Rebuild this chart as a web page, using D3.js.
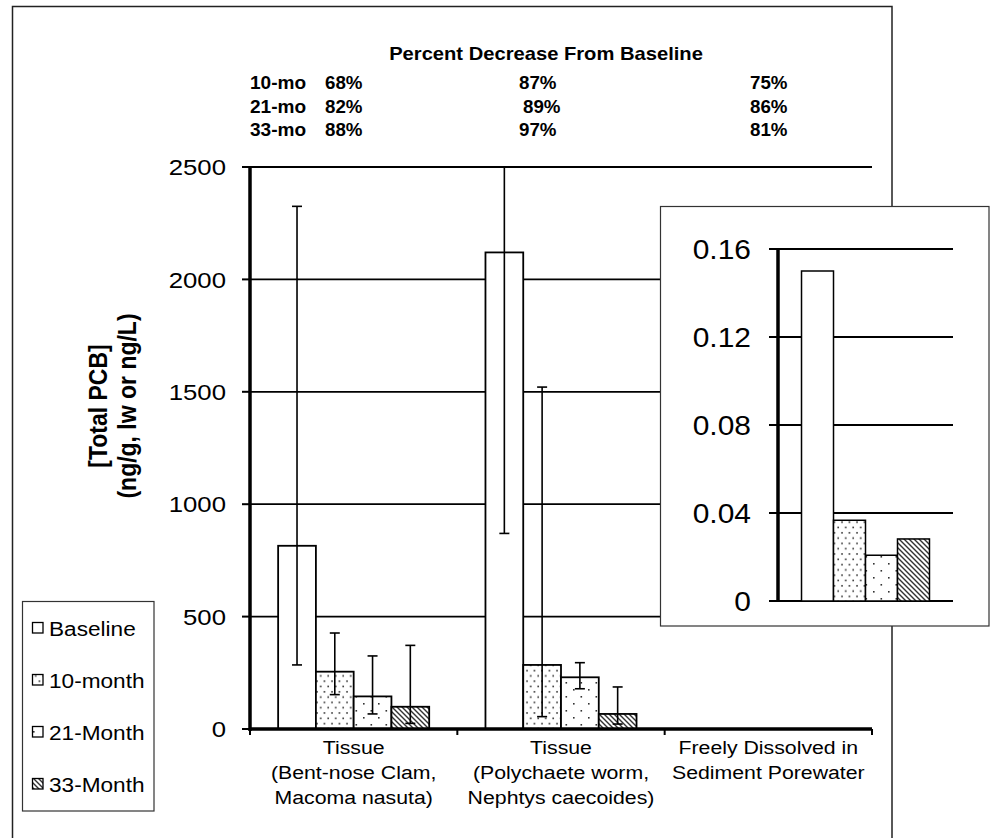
<!DOCTYPE html>
<html><head><meta charset="utf-8">
<script src="https://cdn.jsdelivr.net/npm/d3@7"></script>
<style>
body{margin:0;background:#fff}
svg{display:block}
text{font-family:"Liberation Sans",Arial,sans-serif;fill:#000}
</style>
</head><body>
<svg id="chart" width="993" height="838"></svg>
<script>
// ---------------- DATA ----------------
const categories = [
  ["Tissue", "(Bent-nose Clam,", "Macoma nasuta)"],
  ["Tissue", "(Polychaete worm,", "Nephtys caecoides)"],
  ["Freely Dissolved in", "Sediment Porewater"]
];
const series = ["Baseline", "10-month", "21-Month", "33-Month"];

// main chart values (ng/g lw) – porewater shown only in the inset
const baselineVals  = [815, 2120, null];
const baselineLow   = [285, 870, null];
const baselineHigh  = [2325, 3370, null];
const month10Vals   = [255, 285, null];
const month10Low    = [153, 55, null];
const month10High   = [427, 1521, null];
const month21Vals   = [145, 230, null];
const month21Low    = [67, 179, null];
const month21High   = [325, 295, null];
const month33Vals   = [99, 67, null];
const month33Low    = [25, 22, null];
const month33High   = [372, 187, null];

// inset: freely dissolved in porewater (ng/L)
const porewaterVals = [0.150, 0.0367, 0.0208, 0.0282];

const yTicks = [0, 500, 1000, 1500, 2000, 2500];
const insetTicks = [0, 0.04, 0.08, 0.12, 0.16];
const insetTickLabels = ["0", "0.04", "0.08", "0.12", "0.16"];

// percent decrease table
const pctTitle = "Percent Decrease From Baseline";
const pctRowLabels = ["10-mo", "21-mo", "33-mo"];
const pctClam = ["68%", "82%", "88%"];
const pctWorm = ["87%", "89%", "97%"];
const pctPore = ["75%", "86%", "81%"];

const yTitle = ["[Total PCB]", "(ng/g, lw or ng/L)"];

// ---------------- DRAW ----------------
const svg = d3.select("#chart");
const defs = svg.append("defs");
const patternIds = ["none", "p10", "p21", "p33"];

// 10-month: dense dots
const p10 = defs.append("pattern").attr("id","p10").attr("patternUnits","userSpaceOnUse")
  .attr("width",7.5).attr("height",10.6);
p10.append("rect").attr("width",7.5).attr("height",10.6).attr("fill","#fff");
p10.append("rect").attr("x",1.2).attr("y",2).attr("width",1.6).attr("height",1.6).attr("fill","#333");
p10.append("rect").attr("x",4.95).attr("y",7.3).attr("width",1.6).attr("height",1.6).attr("fill","#333");
// 21-month: sparse dots
const p21 = defs.append("pattern").attr("id","p21").attr("patternUnits","userSpaceOnUse")
  .attr("width",15).attr("height",14);
p21.append("rect").attr("width",15).attr("height",14).attr("fill","#fff");
p21.append("rect").attr("x",3).attr("y",3).attr("width",1.6).attr("height",1.6).attr("fill","#333");
p21.append("rect").attr("x",10.5).attr("y",10).attr("width",1.6).attr("height",1.6).attr("fill","#333");
// 33-month: diagonal hatch
const p33 = defs.append("pattern").attr("id","p33").attr("patternUnits","userSpaceOnUse")
  .attr("width",5).attr("height",5);
p33.append("rect").attr("width",5).attr("height",5).attr("fill","#fff");
p33.append("path").attr("d","M-1,-1L6,6M-1,4L1,6M4,-1L6,1").attr("stroke","#333").attr("stroke-width",1.4);

function fillFor(i){ return i === 0 ? "#fff" : `url(#${patternIds[i]})`; }

function stext(g, x, y, str, opt){
  const t = g.append("text")
    .attr("transform", `translate(${x},${y}) scale(${opt.sx||1},1)`)
    .attr("font-size", opt.size)
    .attr("text-anchor", opt.anchor || "start")
    .text(str);
  if (opt.bold) t.attr("font-weight", "bold");
  return t;
}

// outer frame
svg.append("rect").attr("x",12.5).attr("y",6.5).attr("width",879.5).attr("height",900)
  .attr("fill","none").attr("stroke","#222").attr("stroke-width",1.5);

// main scales
const plot = {left:250, right:872, top:167, bottom:729};
const x = d3.scaleBand().domain(d3.range(categories.length)).range([plot.left, plot.right]).padding(0);
const xs = d3.scaleBand().domain(series).range([0, x.bandwidth()]).paddingInner(0).paddingOuter(0.745);
const y = d3.scaleLinear().domain([0, 2500]).range([plot.bottom, plot.top]);

defs.append("clipPath").attr("id","clipMain").append("rect")
  .attr("x",plot.left).attr("y",plot.top).attr("width",plot.right-plot.left).attr("height",plot.bottom-plot.top);

// gridlines
svg.append("g").selectAll("line").data(yTicks.filter(d=>d>0)).join("line")
  .attr("x1",plot.left).attr("x2",plot.right).attr("y1",d=>y(d)).attr("y2",d=>y(d))
  .attr("stroke","#000").attr("stroke-width",1.8);

const seriesData = [
  {vals: baselineVals, lo: baselineLow, hi: baselineHigh},
  {vals: month10Vals, lo: month10Low, hi: month10High},
  {vals: month21Vals, lo: month21Low, hi: month21High},
  {vals: month33Vals, lo: month33Low, hi: month33High}
];
const barsG = svg.append("g").attr("clip-path","url(#clipMain)");
seriesData.forEach((s, si) => {
  s.vals.forEach((v, ci) => {
    if (v == null) return;
    const bx = x(ci) + xs(series[si]);
    barsG.append("rect").attr("x",bx).attr("y",y(v)).attr("width",xs.bandwidth()).attr("height",y(0)-y(v))
      .attr("fill",fillFor(si)).attr("stroke","#000").attr("stroke-width",1.8);
  });
});
seriesData.forEach((s, si) => {
  s.vals.forEach((v, ci) => {
    if (v == null) return;
    const cx = x(ci) + xs(series[si]) + xs.bandwidth()/2;
    const g = barsG.append("g").attr("stroke","#000").attr("stroke-width",1.6);
    g.append("line").attr("x1",cx).attr("x2",cx).attr("y1",y(s.lo[ci])).attr("y2",y(s.hi[ci]));
    [s.lo[ci], s.hi[ci]].forEach(e => g.append("line").attr("x1",cx-5).attr("x2",cx+5).attr("y1",y(e)).attr("y2",y(e)));
  });
});

// y axis
svg.append("line").attr("x1",plot.left).attr("x2",plot.left).attr("y1",plot.top-1).attr("y2",plot.bottom+2)
  .attr("stroke","#000").attr("stroke-width",3.5);
svg.append("g").selectAll("line").data(yTicks).join("line")
  .attr("x1",plot.left-8).attr("x2",plot.left).attr("y1",d=>y(d)).attr("y2",d=>y(d))
  .attr("stroke","#000").attr("stroke-width",2);
const yl = svg.append("g");
yTicks.forEach(t => stext(yl, 226, y(t)+8.2, String(t), {size:23, sx:1.12, anchor:"end"}));

// x axis
svg.append("line").attr("x1",plot.left).attr("x2",plot.right).attr("y1",plot.bottom).attr("y2",plot.bottom)
  .attr("stroke","#000").attr("stroke-width",3.5);
const xTickPos = d3.range(categories.length+1).map(i => i < categories.length ? x(i) : x(categories.length-1)+x.bandwidth());
svg.append("g").selectAll("line").data(xTickPos).join("line")
  .attr("x1",d=>d).attr("x2",d=>d).attr("y1",plot.bottom).attr("y2",plot.bottom+6)
  .attr("stroke","#000").attr("stroke-width",2);
const xl = svg.append("g");
categories.forEach((lines, ci) => {
  const cx = x(ci) + x.bandwidth()/2;
  lines.forEach((ln, li) => stext(xl, cx, 754 + li*25, ln, {size:19, sx:1.12, anchor:"middle"}));
});

// y title
const yt = svg.append("g").attr("transform","translate(0,406)");
yTitle.forEach((ln, i) => {
  yt.append("text").attr("transform", `translate(${107 + i*29},0) rotate(-90) scale(1,1.1)`)
    .attr("text-anchor","middle").attr("font-size",23).attr("font-weight","bold").text(ln);
});

// percent decrease table
const pt = svg.append("g");
stext(pt, 546, 60, pctTitle, {size:18, sx:1.12, bold:true, anchor:"middle"});
const colX = [325, 519, 750];
const colData = [pctClam, pctWorm, pctPore];
pctRowLabels.forEach((lab, r) => {
  const by = 89 + r*23.5;
  stext(pt, 250, by, lab, {size:18, sx:1.06, bold:true});
  colData.forEach((col, c) => {
    const dx = (c === 1 && r === 1) ? 4 : 0;
    stext(pt, colX[c] + dx, by, col[r], {size:18, sx:1.04, bold:true});
  });
});

// legend
const lg = svg.append("g");
lg.append("rect").attr("x",22.5).attr("y",601.5).attr("width",131.5).attr("height",209.5)
  .attr("fill","#fff").attr("stroke","#333").attr("stroke-width",1.2);
series.forEach((s, i) => {
  const by = 636 + i*52;
  lg.append("rect").attr("x",32.5).attr("y",by-13.5).attr("width",10.5).attr("height",10.5)
    .attr("fill",fillFor(i)).attr("stroke","#000").attr("stroke-width",1.3);
  stext(lg, 49, by, s, {size:19.5, sx:1.16});
});

// inset
const ins = {boxL:660.5, boxT:206.5, boxR:989, boxB:626, left:778, right:953, top:249, bottom:601};
const ig = svg.append("g");
ig.append("rect").attr("x",ins.boxL).attr("y",ins.boxT).attr("width",ins.boxR-ins.boxL).attr("height",ins.boxB-ins.boxT)
  .attr("fill","#fff").attr("stroke","#333").attr("stroke-width",1.2);
const iy = d3.scaleLinear().domain([0, 0.16]).range([ins.bottom, ins.top]);
const ix = d3.scaleBand().domain(series).range([ins.left, ins.right]).paddingInner(0).paddingOuter(0.735);
ig.append("g").selectAll("line").data(insetTicks).join("line")
  .attr("x1",ins.left).attr("x2",ins.right).attr("y1",d=>iy(d)).attr("y2",d=>iy(d))
  .attr("stroke","#000").attr("stroke-width",1.8);
ig.append("g").selectAll("rect").data(porewaterVals).join("rect")
  .attr("x",(d,i)=>ix(series[i])).attr("y",d=>iy(d)).attr("width",ix.bandwidth()).attr("height",d=>iy(0)-iy(d))
  .attr("fill",(d,i)=>fillFor(i)).attr("stroke","#000").attr("stroke-width",1.5);
ig.append("line").attr("x1",ins.left).attr("x2",ins.left).attr("y1",ins.top-1).attr("y2",ins.bottom+1)
  .attr("stroke","#000").attr("stroke-width",3.5);
ig.append("g").selectAll("line.t").data(insetTicks).join("line")
  .attr("x1",ins.left-9).attr("x2",ins.left).attr("y1",d=>iy(d)).attr("y2",d=>iy(d))
  .attr("stroke","#000").attr("stroke-width",2);
insetTicks.forEach((t, i) => stext(ig, 751, iy(t)+10, insetTickLabels[i], {size:28, sx:1.07, anchor:"end"}));
</script>
</body></html>
